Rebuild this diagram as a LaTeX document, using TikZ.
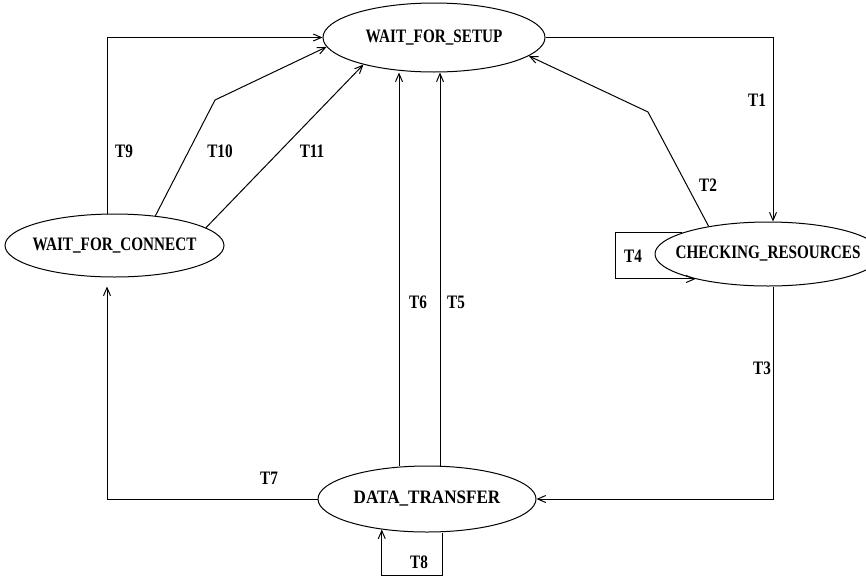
\documentclass[tikz,border=0pt]{standalone}
\usepackage{fontspec}
\setmainfont{Liberation Serif}[FakeStretch=0.8]
\newfontfamily\widefont{Liberation Serif}[FakeStretch=0.9]
\usetikzlibrary{shapes.geometric,arrows.meta}
\begin{document}
\begin{tikzpicture}[x=1pt,y=-1pt,
  state/.style={draw,ellipse,line width=1pt,inner sep=0pt,font=\fontsize{19}{22}\selectfont\bfseries},
  lbl/.style={font=\fontsize{19}{22}\selectfont\bfseries,inner sep=0pt},
  arr/.style={draw,line width=1pt,-{Straight Barb[length=8pt,width=7pt,line width=1pt]}}]
\useasboundingbox (0,0) rectangle (866,576);
% states
\node[state,minimum width=222pt,minimum height=69pt] (setup) at (434,37.5) {\makebox[0pt]{WAIT\_FOR\_SETUP}};
\node[state,minimum width=226pt,minimum height=64pt] (check) at (768,254) {\makebox[0pt]{CHECKING\_RESOURCES}};
\node[state,minimum width=219pt,minimum height=63pt] (connect) at (114.5,245.5) {\makebox[0pt]{WAIT\_FOR\_CONNECT}};
\node[state,minimum width=218pt,minimum height=66pt] (transfer) at (427,499) {\makebox[0pt]{\widefont\bfseries DATA\_TRANSFER}};
% helper coordinates
\coordinate (t1) at (773,0);
\coordinate (t9) at (107,0);
\coordinate (t6) at (399,0);
\coordinate (t5) at (440,0);
\coordinate (t10) at (215,100);
\coordinate (t2) at (648,112);
\coordinate (t4l) at (615,256);
\coordinate (t8r) at (442,575);
% connectors
\draw[arr] (setup.east) -| (check.north -| t1);
\draw[arr] (check.155) -- (t2) -- (setup.-11);
\draw[arr] (check.south -| t1) |- (transfer.east);
\draw[arr] (check.166) -| (t4l) |- (check.199);
\draw[arr] (transfer.north -| t5) -- (setup.south -| t5);
\draw[arr] (transfer.north -| t6) -- (setup.south -| t6);
\draw[arr,shorten >=9pt] (transfer.west) -| (connect.south -| t9);
\draw[arr] (transfer.south -| t8r) -- (t8r) -| (transfer.-146);
\draw[arr] (connect.north -| t9) |- (setup.west);
\draw[arr] (connect.36) -- (t10) -- (setup.185);
\draw[arr] (connect.11) -- (setup.201);
% labels
\node[lbl] (l1) at (757,100) {T1};
\node[lbl] (l2) at (708,185) {T2};
\node[lbl] (l3) at (762,368) {T3};
\node[lbl] (l4) at (633,256) {T4};
\node[lbl] (l5) at (456,302) {T5};
\node[lbl] (l6) at (418,302) {T6};
\node[lbl] (l7) at (269,478) {T7};
\node[lbl] (l8) at (419,562) {T8};
\node[lbl] (l9) at (124,151) {T9};
\node[lbl] (l10) at (220,151) {T10};
\node[lbl] (l11) at (312,151) {T11};
\end{tikzpicture}
\end{document}
